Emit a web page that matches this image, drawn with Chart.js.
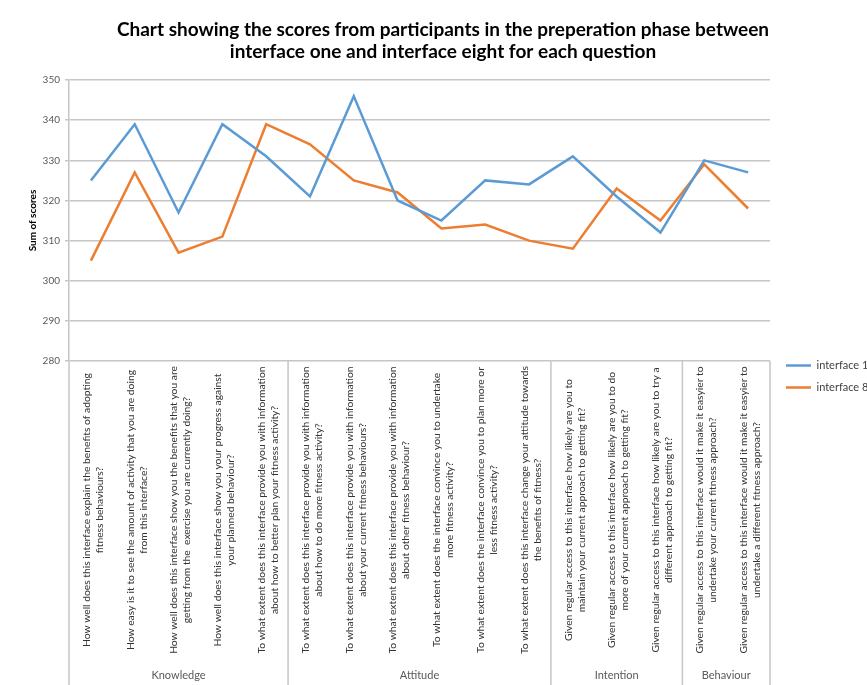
<!DOCTYPE html>
<html lang="en">
<head>
  <meta charset="UTF-8" />
  <title>Preparation phase scores by question</title>
  <script src="https://cdn.jsdelivr.net/npm/chart.js"></script>
  <style>
    body { margin: 0; background: #fff; }
    canvas { display: block; }
  </style>
</head>
<body>
  <canvas id="scores-chart" width="867" height="685"></canvas>

  <script>
    // questions, each split over two lines as they sit under the axis
    const questions = [
      ['How well does this interface explain the benefits of adopting', 'fitness behaviours?'],
      ['How easy is it to see the amount of activity that you are doing', 'from this interface?'],
      ['How well does this interface show you the benefits that you are', 'getting from the  exercise you are currently doing?'],
      ['How well does this interface show you your progress against', 'your planned behaviour?'],
      ['To what extent does this interface provide you with information', 'about how to better plan your fitness activity?'],
      ['To what extent does this interface provide you with information', 'about how to do more fitness activity?'],
      ['To what extent does this interface provide you with information', 'about your current fitness behaviours?'],
      ['To what extent does this interface provide you with information', 'about other fitness behaviour?'],
      ['To what extent does the interface convince you to undertake', 'more fitness activity?'],
      ['To what extent does the interface convince you to plan more or', 'less fitness activity?'],
      ['To what extent does this interface change your attitude towards', 'the benefits of fitness?'],
      ['Given regular access to this interface how likely are you to', 'maintain your current approach to getting fit?'],
      ['Given regular access to this interface how likely are you to do', 'more of your current approach to getting fit?'],
      ['Given regular access to this interface how likely are you to try a', 'different approach to getting fit?'],
      ['Given regular access to this interface would it make it easyier to', 'undertake your current fitness approach?'],
      ['Given regular access to this interface would it make it easyier to', 'undertake a different fitness approach?']
    ];
    const groupNames = ['Knowledge', 'Attitude', 'Intention', 'Behaviour'];
    const groupSizes = [5, 6, 3, 2];

    const interface1 = [325, 339, 317, 339, 331, 321, 346, 320, 315, 325, 324, 331, 321, 312, 330, 327];
    const interface8 = [305, 327, 307, 311, 339, 334, 325, 322, 313, 314, 310, 308, 323, 315, 329, 318];

    const yMin = 280, yMax = 350, yStep = 10;

    const FONT = 'Lato, "Open Sans", sans-serif';
    const GRID = '#c6c6c6';

    // draws the two-level category axis (questions + groups) under the plot
    const questionAxis = {
      id: 'questionAxis',
      afterLayout(chart) {
        // legend sits on the right, just below the plot's bottom edge
        const lg = chart.legend;
        const h = lg.height;
        lg.top = chart.chartArea.bottom - 12;
        lg.bottom = lg.top + h;
        lg.left += 5;
      },
      afterDraw(chart) {
        const { ctx, chartArea } = chart;
        const xs = chart.scales.x;
        const half = (xs.getPixelForValue(1) - xs.getPixelForValue(0)) / 2;
        const top = chartArea.bottom;
        const bottom = chart.height;

        ctx.save();
        ctx.strokeStyle = GRID;
        ctx.lineWidth = 1.5;
        const edges = [0];
        groupSizes.forEach(n => edges.push(edges[edges.length - 1] + n));
        edges.forEach(k => {
          const px = xs.getPixelForValue(k) - half;
          ctx.beginPath();
          ctx.moveTo(px, top);
          ctx.lineTo(px, bottom);
          ctx.stroke();
        });

        // question text, rotated to read bottom-to-top
        ctx.fillStyle = '#333';
        ctx.font = '10.3px ' + FONT;
        ctx.textAlign = 'center';
        ctx.textBaseline = 'middle';
        const mid = 510, lineH = 13;
        questions.forEach((lines, i) => {
          ctx.save();
          ctx.translate(xs.getPixelForValue(i) + 2, mid);
          ctx.rotate(-Math.PI / 2);
          lines.forEach((t, j) => ctx.fillText(t, 0, (j - (lines.length - 1) / 2) * lineH));
          ctx.restore();
        });

        // group names
        ctx.fillStyle = '#595959';
        ctx.font = '11px ' + FONT;
        groupNames.forEach((g, i) => {
          const a = xs.getPixelForValue(edges[i]) - half;
          const b = xs.getPixelForValue(edges[i + 1]) - half;
          ctx.fillText(g, (a + b) / 2, 675);
        });
        ctx.restore();
      }
    };

    new Chart(document.getElementById('scores-chart'), {
      type: 'line',
      data: {
        labels: questions.map(q => q.join(' ')),
        datasets: [
          { label: 'interface 1', data: interface1, borderColor: '#5b9bd5', backgroundColor: '#5b9bd5',
            borderWidth: 2.5, pointRadius: 0, tension: 0, fill: false },
          { label: 'interface 8', data: interface8, borderColor: '#ed7d31', backgroundColor: '#ed7d31',
            borderWidth: 2.5, pointRadius: 0, tension: 0, fill: false }
        ]
      },
      options: {
        responsive: false,
        animation: false,
        devicePixelRatio: 1,
        layout: { padding: { left: 19 } },
        scales: {
          x: {
            type: 'category',
            offset: true,
            grid: { display: false },
            border: { display: false },
            ticks: { display: false },
            afterFit: s => { s.height = 324; }
          },
          y: {
            min: yMin,
            max: yMax,
            ticks: { stepSize: yStep, color: '#595959', padding: 5, font: { family: FONT, size: 10 } },
            grid: { color: GRID, lineWidth: 1.5, tickLength: 4 },
            border: { color: GRID, width: 1.5 },
            title: {
              display: true,
              text: 'Sum of scores',
              color: '#000',
              padding: { top: 8 },
              font: { family: FONT, size: 10, weight: 'bold' }
            },
            afterFit: s => { s.width = 50; }
          }
        },
        plugins: {
          title: {
            display: true,
            text: [
              'Chart showing the scores from participants in the preperation phase between',
              'interface one and interface eight for each question'
            ],
            color: '#000',
            font: { family: FONT, size: 19, weight: 'bold', lineHeight: 1.16 },
            padding: { top: 19, bottom: 17 }
          },
          legend: {
            position: 'right',
            align: 'start',
            maxWidth: 97,
            labels: {
              usePointStyle: true,
              pointStyle: 'line',
              pointStyleWidth: 25,
              padding: 11,
              color: '#404040',
              font: { family: FONT, size: 11 }
            }
          },
          tooltip: { enabled: false }
        }
      },
      plugins: [questionAxis]
    });
  </script>
</body>
</html>
